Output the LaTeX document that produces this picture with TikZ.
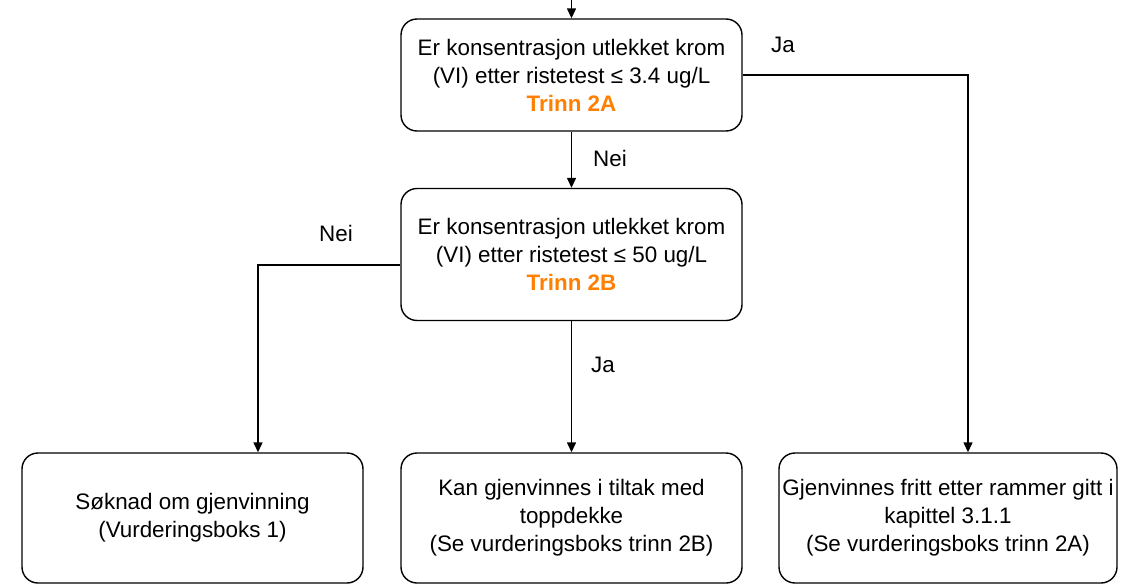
\documentclass[tikz,border=0pt]{standalone}
\usepackage{fontspec}
\setmainfont{Liberation Sans}
\usetikzlibrary{arrows.meta}
\definecolor{trinn}{HTML}{FF8000}
\tikzset{
  box/.style={draw, rounded corners=8pt, line width=0.7pt, align=center,
    minimum width=170.5pt, font=\fontsize{11.2}{14}\selectfont},
  lbl/.style={font=\fontsize{11.2}{14}\selectfont},
  link/.style={line width=0.7pt, -{Triangle[width=4.5pt,length=5pt]}}
}
\begin{document}
\begin{tikzpicture}[x=0.5pt,y=-0.5pt]
\useasboundingbox (0,0) rectangle (1121,584);
% questions
\node[box, minimum height=56pt] (q1) at (571.5,75)
  {Er konsentrasjon utlekket krom\\ (VI) etter ristetest ≤ 3.4 ug/L\\ \textbf{\color{trinn}Trinn 2A}};
\node[box, minimum height=66pt] (q2) at (571.5,254.5)
  {Er konsentrasjon utlekket krom\\ (VI) etter ristetest ≤ 50 ug/L\\ \textbf{\color{trinn}Trinn 2B}};
% results
\node[box, minimum height=65pt] (res1) at (192.5,518)
  {Søknad om gjenvinning\\ (Vurderingsboks 1)};
\node[box, minimum height=65pt] (res2) at (571.5,518)
  {Kan gjenvinnes i tiltak med\\ toppdekke\\ (Se vurderingsboks trinn 2B)};
\node[box, minimum height=65pt, minimum width=169pt, inner xsep=1.5pt] (res3) at (948,518)
  {Gjenvinnes fritt etter rammer gitt i\\ kapittel 3.1.1\\ (Se vurderingsboks trinn 2A)};
% bends
\coordinate (start) at (571.5,0);
\coordinate (nbend) at (258,265);
\coordinate (jbend) at (968,75);
\draw[link] (start) -- (q1);
\draw[link] (q1) -- (q2);
\draw[link] (q2) -- (res2);
\draw[link] (q1.east) -- (jbend) -- (jbend |- res3.north);
\draw[link] (q2.west |- nbend) -- (nbend) -- (nbend |- res1.north);
% labels
\node[lbl] (ja1) at (783,45) {Ja};
\node[lbl] (nei1) at (610,158) {Nei};
\node[lbl] (nei2) at (336,233) {Nei};
\node[lbl] (ja2) at (603,365) {Ja};
\end{tikzpicture}
\end{document}
